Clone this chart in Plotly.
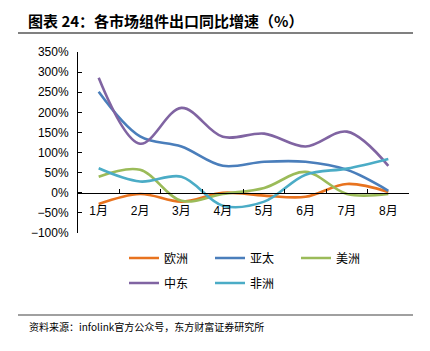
import plotly.graph_objects as go

months = ["1月", "2月", "3月", "4月", "5月", "6月", "7月", "8月"]
europe = [-28, -3, -22, 0, -7, -10, 22, 2]
apac = [251, 140, 115, 67, 77, 77, 57, 5]
americas = [40, 57, -20, -3, 12, 52, -3, -3]
mideast = [286, 122, 211, 139, 147, 115, 152, 67]
africa = [61, 28, 40, -32, -22, 45, 60, 84]

series = [
    ("欧洲", europe, "#E8731F", "legend"),
    ("亚太", apac, "#4A7EBB", "legend"),
    ("美洲", americas, "#9BBB59", "legend"),
    ("中东", mideast, "#8064A2", "legend2"),
    ("非洲", africa, "#4BACC6", "legend2"),
]

W, H = 430, 351
L, R, T, B = 78, 21, 52, 118
pw, ph = W - L - R, H - T - B

def px(x):
    return (x - L) / pw

def py(y):
    return (H - B - y) / ph

fig = go.Figure()
for name, vals, col, lg in series:
    fig.add_trace(go.Scatter(
        x=months, y=vals, name=name, mode="lines", legend=lg,
        line=dict(color=col, width=2.6, shape="spline", smoothing=1.0),
    ))

font_main = "Liberation Sans, Noto Sans CJK SC, sans-serif"
cjk = "Noto Sans CJK SC, sans-serif"

legend_common = dict(
    orientation="h", xanchor="left", yanchor="middle",
    font=dict(family=cjk, size=12, color="#000"),
    entrywidth=41, entrywidthmode="pixels", itemwidth=30,
    tracegroupgap=0, bgcolor="rgba(0,0,0,0)",
)

fig.update_layout(
    width=W, height=H,
    margin=dict(l=L, r=R, t=T, b=B),
    paper_bgcolor="white", plot_bgcolor="white",
    font=dict(family=font_main, size=12, color="#000"),
    showlegend=True,
    legend=dict(x=px(124), y=py(258), **legend_common),
    legend2=dict(x=px(124), y=py(283), **legend_common),
    xaxis=dict(
        type="category", anchor="free", position=100 / 450,
        showline=True, linecolor="#000", linewidth=1,
        ticks="inside", ticklen=4, tickcolor="#000", tickson="boundaries",
        showgrid=False, zeroline=False, ticklabelstandoff=7,
        tickfont=dict(family=font_main, size=12, color="#000"),
        range=[-0.5, 7.5],
    ),
    yaxis=dict(
        range=[-100, 350], dtick=50, ticksuffix="%",
        showline=True, linecolor="#000", linewidth=1,
        ticks="inside", ticklen=4, tickcolor="#000",
        showgrid=False, zeroline=False, ticklabelstandoff=6,
        tickfont=dict(family=font_main, size=12, color="#000"),
    ),
    shapes=[
        dict(type="line", xref="paper", yref="paper", x0=px(18), x1=px(413),
             y0=py(33), y1=py(33), line=dict(color="#808080", width=2)),
        dict(type="line", xref="paper", yref="paper", x0=px(18), x1=px(413),
             y0=py(315), y1=py(315), line=dict(color="#808080", width=1.5)),
    ],
    annotations=[
        dict(text="<b>图表 24：各市场组件出口同比增速（%）</b>", xref="paper", yref="paper",
             x=px(26), y=py(20), xanchor="left", yanchor="middle", showarrow=False,
             font=dict(family=cjk, size=15, color="#000")),
        dict(text="资料来源：infolink官方公众号，东方财富证券研究所", xref="paper", yref="paper",
             x=px(27), y=py(326), xanchor="left", yanchor="middle", showarrow=False,
             font=dict(family=cjk, size=10, color="#000")),
    ],
)

fig.write_html("out.html")
